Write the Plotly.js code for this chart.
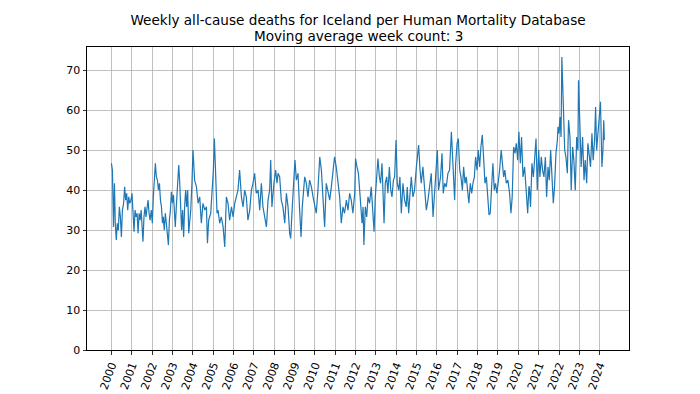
<!DOCTYPE html>
<html>
<head>
<meta charset="utf-8">
<script src="https://cdn.plot.ly/plotly-3.0.1.min.js"></script>
<style>html,body{margin:0;padding:0;background:#fff;}#chart{width:700px;height:394px;}</style>
</head>
<body>
<div id="chart"></div>
<script>
// Decimal-year position of each reading (weekly series, 3-week moving average)
const years = [
2000.00,2000.05,2000.10,2000.15,2000.19,2000.24,2000.29,2000.34,2000.39,2000.44,2000.49,2000.54,2000.60,2000.65,2000.70,2000.75,2000.80,2000.85,2000.90,2000.96,
2001.01,2001.06,2001.11,2001.16,2001.21,2001.26,2001.31,2001.36,2001.41,2001.46,2001.51,2001.55,2001.60,2001.65,2001.70,2001.75,2001.80,2001.85,2001.90,2001.96,
2002.01,2002.06,2002.11,2002.16,2002.21,2002.26,2002.31,2002.36,2002.41,2002.46,2002.51,2002.55,2002.60,2002.65,2002.70,2002.75,2002.80,2002.85,2002.90,2002.95,
2003.00,2003.05,2003.09,2003.14,2003.19,2003.24,2003.31,2003.36,2003.41,2003.45,2003.50,2003.55,2003.60,2003.65,2003.70,2003.75,2003.80,
2003.90,2003.96,
2004.01,2004.09,2004.18,2004.26,2004.34,2004.42,2004.50,2004.59,2004.67,2004.72,2004.78,2004.88,2004.95,
2005.01,2005.06,2005.13,2005.19,2005.24,2005.32,2005.40,2005.49,2005.57,2005.65,2005.73,2005.81,2005.90,2005.98,
2006.06,2006.14,2006.22,2006.30,2006.39,2006.47,2006.55,2006.63,2006.71,2006.80,2006.88,2006.96,
2007.04,2007.12,2007.21,2007.29,2007.37,2007.45,2007.53,2007.62,2007.70,2007.78,2007.83,2007.89,2007.99,
2008.07,2008.14,2008.19,2008.27,2008.35,2008.43,2008.52,2008.60,2008.68,2008.76,2008.81,2008.89,2008.96,
2009.02,2009.09,2009.17,2009.25,2009.32,2009.38,2009.45,2009.50,2009.58,2009.66,2009.74,2009.83,2009.91,2009.99,
2010.07,2010.15,2010.24,2010.32,2010.40,2010.48,2010.56,2010.65,2010.73,2010.81,2010.89,2010.97,
2011.05,2011.14,2011.22,2011.30,2011.38,2011.46,2011.55,2011.63,2011.71,2011.79,2011.87,2011.96,
2012.00,2012.07,2012.14,
2012.19,2012.25,2012.32,2012.37,2012.41,2012.48,2012.55,2012.61,2012.69,2012.77,2012.86,2012.91,2012.97,
2013.04,2013.10,2013.17,2013.23,2013.30,2013.35,2013.40,2013.46,2013.53,2013.59,2013.66,2013.73,2013.79,2013.86,2013.92,2013.99,
2014.05,2014.12,2014.18,2014.25,2014.33,2014.41,2014.49,2014.54,2014.61,2014.68,2014.74,2014.82,2014.90,2014.99,
2015.04,2015.10,2015.17,2015.23,2015.31,2015.40,2015.48,2015.56,2015.64,2015.72,2015.81,2015.89,2015.97,
2016.02,2016.08,2016.18,2016.25,2016.31,
2016.38,2016.46,2016.54,2016.62,2016.71,2016.79,2016.87,2016.92,2016.99,
2017.05,2017.12,2017.18,2017.25,2017.31,2017.38,2017.44,2017.51,2017.57,2017.64,2017.71,2017.77,2017.84,2017.90,2017.97,
2018.03,2018.10,2018.16,2018.23,2018.30,2018.36,2018.43,2018.49,2018.56,2018.62,2018.69,2018.75,2018.82,2018.88,2018.95,
2019.02,2019.08,2019.16,2019.21,2019.28,2019.34,2019.41,2019.49,2019.57,2019.64,2019.70,2019.77,2019.84,2019.90,2019.97,
2020.03,2020.10,2020.16,2020.23,2020.31,2020.39,2020.46,2020.52,
2020.54,2020.60,2020.67,2020.74,2020.80,2020.87,2020.93,
2021.00,2021.06,2021.13,2021.19,2021.26,2021.33,2021.39,2021.46,2021.52,2021.59,2021.65,2021.72,2021.78,2021.85,2021.92,2021.95,
2022.00,2022.05,2022.10,2022.14,2022.21,2022.28,2022.34,2022.41,2022.47,2022.54,2022.60,2022.67,2022.73,2022.80,2022.87,2022.93,2022.96,
2023.03,2023.09,2023.16,2023.23,2023.29,2023.36,2023.42,2023.49,2023.55,2023.62,2023.68,2023.75,2023.80,2023.85,2023.91,2023.98,
2024.04,2024.11,2024.16,2024.20,2024.23
];

// Weekly deaths (3-week moving average)
const deaths = [
46.7,45.0,30.8,41.7,31.7,27.5,31.7,30.0,35.8,33.3,28.3,35.0,36.7,40.8,37.5,39.2,35.0,38.3,36.7,37.5,
39.2,34.2,29.6,35.0,33.3,34.2,29.2,34.2,32.5,35.0,31.7,27.1,33.3,35.8,33.3,35.0,37.5,34.2,32.5,35.0,
31.7,38.3,44.2,46.7,43.3,42.5,40.0,41.7,37.5,35.8,31.7,33.3,30.0,34.2,31.7,28.3,26.3,32.5,35.0,39.6,
36.7,38.8,33.3,30.8,35.8,39.2,46.3,41.7,33.3,30.0,35.0,28.3,35.8,40.0,35.8,40.0,29.2,
35.0,41.7,
50.0,42.5,40.8,36.7,38.3,31.7,36.7,35.0,35.8,26.7,32.5,34.2,40.0,
45.0,52.9,41.7,34.2,35.0,31.7,33.3,30.8,25.8,38.3,36.7,32.5,35.8,33.3,
36.7,38.3,40.0,45.0,38.3,35.8,40.0,38.3,32.5,35.0,40.0,41.7,
44.2,39.2,40.0,35.0,41.7,35.8,33.3,30.8,37.5,40.0,47.5,35.8,41.7,
45.0,41.7,44.2,43.3,37.5,35.8,31.7,39.2,35.8,29.2,27.9,35.8,42.5,
47.5,42.5,44.2,35.0,28.3,35.8,40.0,43.3,41.7,38.3,42.5,40.8,38.3,35.8,
34.2,40.0,48.3,45.0,36.7,30.8,41.7,39.2,37.5,40.8,44.2,48.3,
45.8,42.5,38.3,31.7,35.8,34.2,37.5,35.0,39.2,37.5,34.2,39.2,
47.9,45.8,44.2,
40.8,36.7,31.7,35.8,26.3,35.8,33.3,38.3,36.7,40.8,31.7,29.6,38.3,
43.3,47.9,43.3,41.7,46.7,39.2,31.7,41.7,43.3,39.2,45.8,40.0,38.3,42.5,43.3,52.5,
41.7,40.0,43.3,34.2,41.7,37.5,35.8,40.8,34.2,39.2,43.3,38.3,40.0,45.8,
48.3,51.3,45.0,41.7,45.8,40.0,35.0,37.5,41.7,44.2,33.3,40.0,47.5,
50.0,40.0,43.3,49.2,39.2,
41.7,40.8,44.2,45.0,54.6,45.8,37.5,46.7,51.7,
52.9,45.0,43.3,40.0,45.8,41.7,43.3,40.0,36.7,41.7,39.2,41.7,43.3,48.3,45.0,
50.0,45.8,50.8,53.8,47.5,41.7,43.3,39.2,33.8,34.2,43.3,46.7,40.0,41.7,39.2,
41.7,45.0,50.0,46.7,43.3,45.0,41.7,42.5,39.2,34.2,38.3,50.8,49.2,51.7,47.5,
54.6,46.7,53.3,43.3,45.8,40.0,34.2,40.8,
40.8,35.8,46.7,43.3,48.3,52.9,40.0,
50.0,43.3,48.3,45.0,43.3,48.3,38.3,45.8,42.5,50.0,43.3,36.7,40.8,49.2,52.5,55.8,
54.2,58.3,53.3,73.3,61.7,50.0,48.3,44.2,57.5,53.3,40.0,50.8,47.5,40.0,53.3,50.0,67.5,
55.8,45.8,53.3,42.5,47.5,41.7,51.7,47.5,45.8,54.2,47.5,52.5,60.8,50.0,54.2,58.3,
62.1,45.8,50.0,57.5,52.5
];

const tickYears = [2000,2001,2002,2003,2004,2005,2006,2007,2008,2009,2010,2011,2012,2013,2014,2015,2016,2017,2018,2019,2020,2021,2022,2023,2024];
const yTicks = [0,10,20,30,40,50,60,70];
const titleLine1 = 'Weekly all-cause deaths for Iceland per Human Mortality Database';
const titleLine2 = 'Moving average week count: 3';

function decYearToDate(y) {
  const yr = Math.floor(y);
  const a = Date.UTC(yr, 0, 1), b = Date.UTC(yr + 1, 0, 1);
  return new Date(a + (y - yr) * (b - a)).toISOString().replace('T', ' ').slice(0, 19);
}

const xDates = years.map(decYearToDate);
const font = 'DejaVu Sans, sans-serif';
const titleSize = 13.6;

const trace = {
  x: xDates, y: deaths, type: 'scatter', mode: 'lines',
  line: {color: '#1f77b4', width: 1.2}, hoverinfo: 'skip'
};

const layout = {
  width: 700, height: 394,
  margin: {l: 87, r: 71, t: 47, b: 44, pad: 0},
  paper_bgcolor: '#fff', plot_bgcolor: '#fff',
  showlegend: false,
  font: {family: font, size: 11, color: '#000'},
  title: {
    text: titleLine1, font: {family: font, size: titleSize, color: '#000'},
    x: 0.5, xref: 'paper', y: 1 - 20.7/394, yref: 'container', yanchor: 'middle'
  },
  annotations: [{
    text: titleLine2, font: {family: font, size: titleSize, color: '#000'},
    x: 0.5, xref: 'paper', xanchor: 'center',
    y: (350 - 36) / 303.3, yref: 'paper', yanchor: 'middle',
    showarrow: false
  }],
  xaxis: {
    type: 'date',
    range: [decYearToDate(1998.80), decYearToDate(2025.44)],
    tickvals: tickYears.map(y => y + '-01-01'),
    ticktext: tickYears.map(String),
    tickangle: -70,
    ticks: 'outside', ticklen: 3.5, tickwidth: 0.8, tickcolor: '#000',
    showgrid: true, gridcolor: '#b0b0b0', gridwidth: 0.8,
    showline: true, linecolor: '#000', linewidth: 1, mirror: true,
    zeroline: false, automargin: false,
    tickfont: {family: font, size: 11, color: '#000'}
  },
  yaxis: {
    range: [0, 75.8],
    tickvals: yTicks, ticktext: yTicks.map(String),
    ticks: 'outside', ticklen: 3.5, tickwidth: 0.8, tickcolor: '#000',
    showgrid: true, gridcolor: '#b0b0b0', gridwidth: 0.8,
    showline: true, linecolor: '#000', linewidth: 1, mirror: true,
    zeroline: false, automargin: false,
    tickfont: {family: font, size: 11, color: '#000'}
  }
};

Plotly.newPlot('chart', [trace], layout, {staticPlot: true, displayModeBar: false});
</script>
</body>
</html>
